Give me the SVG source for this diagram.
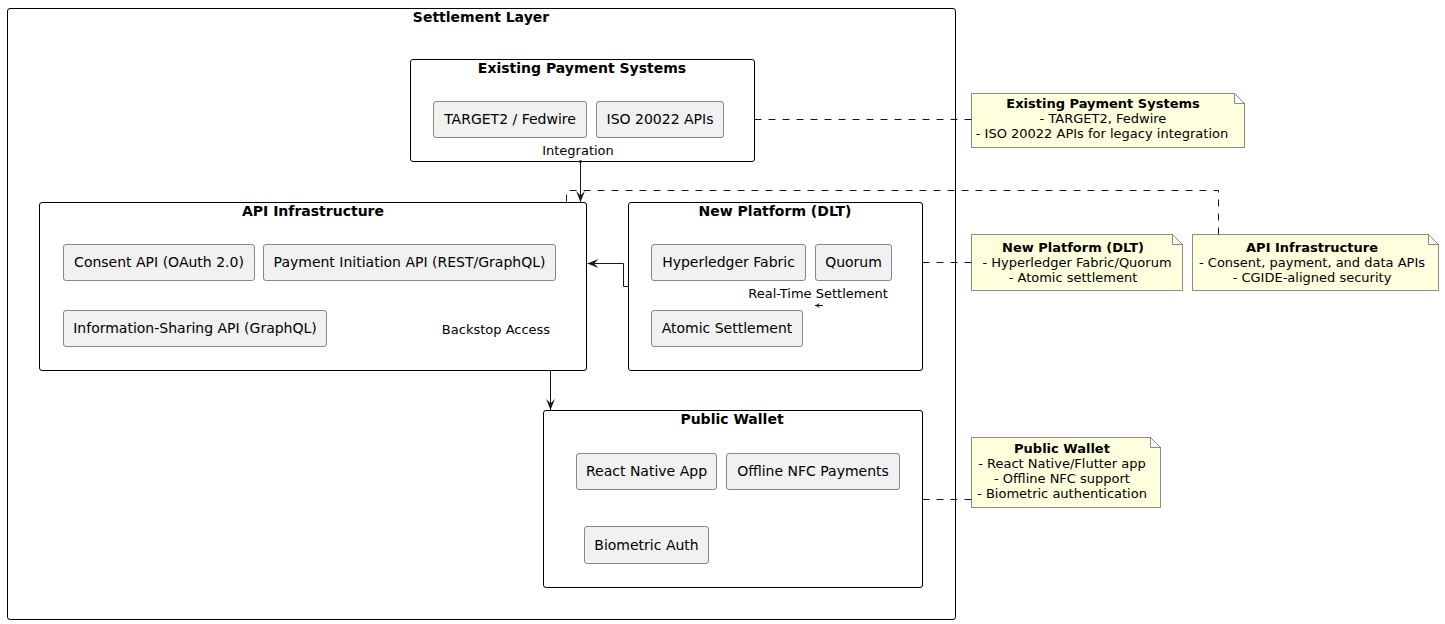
<svg xmlns="http://www.w3.org/2000/svg" width="1445" height="624" viewBox="0 0 1445 624">
<style>
text{font-family:"DejaVu Sans","Liberation Sans",sans-serif;fill:#000}
.grp{fill:none;stroke:#000;stroke-width:1}
.ttl{font-size:14px;font-weight:bold;text-anchor:middle}
.cmp rect{fill:#F1F1F1;stroke:#181818;stroke-width:0.5}
.cmp text{font-size:14px;text-anchor:middle}
.lbl{font-size:13px;text-anchor:middle}
.note path{fill:#FEFFDD;stroke:#181818;stroke-width:0.5}
.note text{font-size:13px;text-anchor:middle}
.note .nt{font-weight:bold}
.edge{fill:none;stroke:#181818;stroke-width:1}
.dash{fill:none;stroke:#181818;stroke-width:1;stroke-dasharray:7,7}
</style>
<defs>
<marker id="arr" viewBox="0 0 10 10" refX="10" refY="5" markerWidth="11" markerHeight="11" markerUnits="userSpaceOnUse" orient="auto">
<path d="M0,1 L10,5 L0,9 L4,5 Z" fill="#181818"/>
</marker>
<marker id="sarr" viewBox="0 0 10 10" refX="10" refY="5" markerWidth="5" markerHeight="5" markerUnits="userSpaceOnUse" orient="auto">
<path d="M0,0 L10,5 L0,10 L4,5 Z" fill="#181818"/>
</marker>
</defs>

<g id="settlement-layer">
<rect class="grp" x="7.5" y="8.5" width="948" height="611" rx="2.5"/>
<text class="ttl" x="481" y="22">Settlement Layer</text>
</g>

<g id="existing-payment-systems">
<rect class="grp" x="410.5" y="59.5" width="344" height="102" rx="2.5"/>
<text class="ttl" x="582" y="73">Existing Payment Systems</text>
<g class="cmp" id="target2">
<rect x="433.5" y="101.5" width="153" height="36" rx="2.5"/>
<text x="510" y="124">TARGET2 / Fedwire</text>
</g>
<g class="cmp" id="iso20022">
<rect x="596.5" y="101.5" width="127" height="36" rx="2.5"/>
<text x="660" y="124">ISO 20022 APIs</text>
</g>
</g>

<g id="api-infrastructure">
<rect class="grp" x="39.5" y="202.5" width="547" height="168" rx="2.5"/>
<text class="ttl" x="313" y="216">API Infrastructure</text>
<g class="cmp" id="consent-api">
<rect x="63.5" y="244.5" width="191" height="36" rx="2.5"/>
<text x="159" y="267">Consent API (OAuth 2.0)</text>
</g>
<g class="cmp" id="payment-initiation-api">
<rect x="263.5" y="244.5" width="292" height="36" rx="2.5"/>
<text x="409.5" y="267">Payment Initiation API (REST/GraphQL)</text>
</g>
<g class="cmp" id="information-sharing-api">
<rect x="63.5" y="310.5" width="263" height="36" rx="2.5"/>
<text x="195" y="333">Information-Sharing API (GraphQL)</text>
</g>
</g>

<g id="new-platform-dlt">
<rect class="grp" x="628.5" y="202.5" width="294" height="168" rx="2.5"/>
<text class="ttl" x="775" y="216">New Platform (DLT)</text>
<g class="cmp" id="hyperledger-fabric">
<rect x="651.5" y="244.5" width="154" height="36" rx="2.5"/>
<text x="728.5" y="267">Hyperledger Fabric</text>
</g>
<g class="cmp" id="quorum">
<rect x="815.5" y="244.5" width="76" height="36" rx="2.5"/>
<text x="853.5" y="267">Quorum</text>
</g>
<g class="cmp" id="atomic-settlement">
<rect x="651.5" y="310.5" width="151" height="36" rx="2.5"/>
<text x="727" y="333">Atomic Settlement</text>
</g>
</g>

<g id="public-wallet">
<rect class="grp" x="543.5" y="410.5" width="379" height="177" rx="2.5"/>
<text class="ttl" x="732" y="424">Public Wallet</text>
<g class="cmp" id="react-native-app">
<rect x="576.5" y="453.5" width="140" height="36" rx="2.5"/>
<text x="646.5" y="476">React Native App</text>
</g>
<g class="cmp" id="offline-nfc-payments">
<rect x="726.5" y="453.5" width="173" height="36" rx="2.5"/>
<text x="813" y="476">Offline NFC Payments</text>
</g>
<g class="cmp" id="biometric-auth">
<rect x="584.5" y="526.5" width="124" height="37" rx="2.5"/>
<text x="646.5" y="550">Biometric Auth</text>
</g>
</g>

<g id="note-existing" class="note">
<path d="M971.5,93.5 L1234.5,93.5 L1244.5,103.5 L1244.5,147.5 L971.5,147.5 Z M1234.5,93.5 L1234.5,103.5 L1244.5,103.5"/>
<text class="nt" x="1103" y="108">Existing Payment Systems</text>
<text x="1103" y="123">- TARGET2, Fedwire</text>
<text x="1102" y="138">- ISO 20022 APIs for legacy integration</text>
</g>

<g id="note-dlt" class="note">
<path d="M971.5,234.5 L1172.5,234.5 L1182.5,244.5 L1182.5,290.5 L971.5,290.5 Z M1172.5,234.5 L1172.5,244.5 L1182.5,244.5"/>
<text class="nt" x="1073" y="252">New Platform (DLT)</text>
<text x="1077" y="267">- Hyperledger Fabric/Quorum</text>
<text x="1073" y="282">- Atomic settlement</text>
</g>

<g id="note-api" class="note">
<path d="M1192.5,234.5 L1428.5,234.5 L1438.5,244.5 L1438.5,290.5 L1192.5,290.5 Z M1428.5,234.5 L1428.5,244.5 L1438.5,244.5"/>
<text class="nt" x="1312" y="252">API Infrastructure</text>
<text x="1312" y="267">- Consent, payment, and data APIs</text>
<text x="1312" y="282">- CGIDE-aligned security</text>
</g>

<g id="note-wallet" class="note">
<path d="M971.5,437.5 L1150.5,437.5 L1160.5,447.5 L1160.5,507.5 L971.5,507.5 Z M1150.5,437.5 L1150.5,447.5 L1160.5,447.5"/>
<text class="nt" x="1062" y="453">Public Wallet</text>
<text x="1062" y="468">- React Native/Flutter app</text>
<text x="1062" y="483">- Offline NFC support</text>
<text x="1062" y="498">- Biometric authentication</text>
</g>

<g id="connectors">
<circle cx="580.5" cy="161.5" r="1.5" fill="#181818"/>
<path class="edge" d="M580.5,161.5 L580.5,202" marker-end="url(#arr)"/>
<text class="lbl" x="578" y="155">Integration</text>
<path class="edge" d="M628,286.5 L623.5,286.5 L623.5,263.5 L587.5,263.5" marker-end="url(#arr)"/>
<text class="lbl" x="818" y="298">Real-Time Settlement</text>
<path class="edge" d="M823,305.5 L815,305.5" marker-end="url(#sarr)"/>
<path class="edge" d="M550.5,370.5 L550.5,410" marker-end="url(#arr)"/>
<text class="lbl" x="496" y="334">Backstop Access</text>
<path class="dash" d="M754.5,119.5 L971.5,119.5"/>
<path class="dash" d="M922.5,262.5 L971.5,262.5"/>
<path class="dash" d="M922.5,499.5 L971.5,499.5"/>
<path class="dash" d="M1218.5,234.5 L1218.5,190.5 L566.5,190.5 L566.5,202.5"/>
</g>
</svg>
